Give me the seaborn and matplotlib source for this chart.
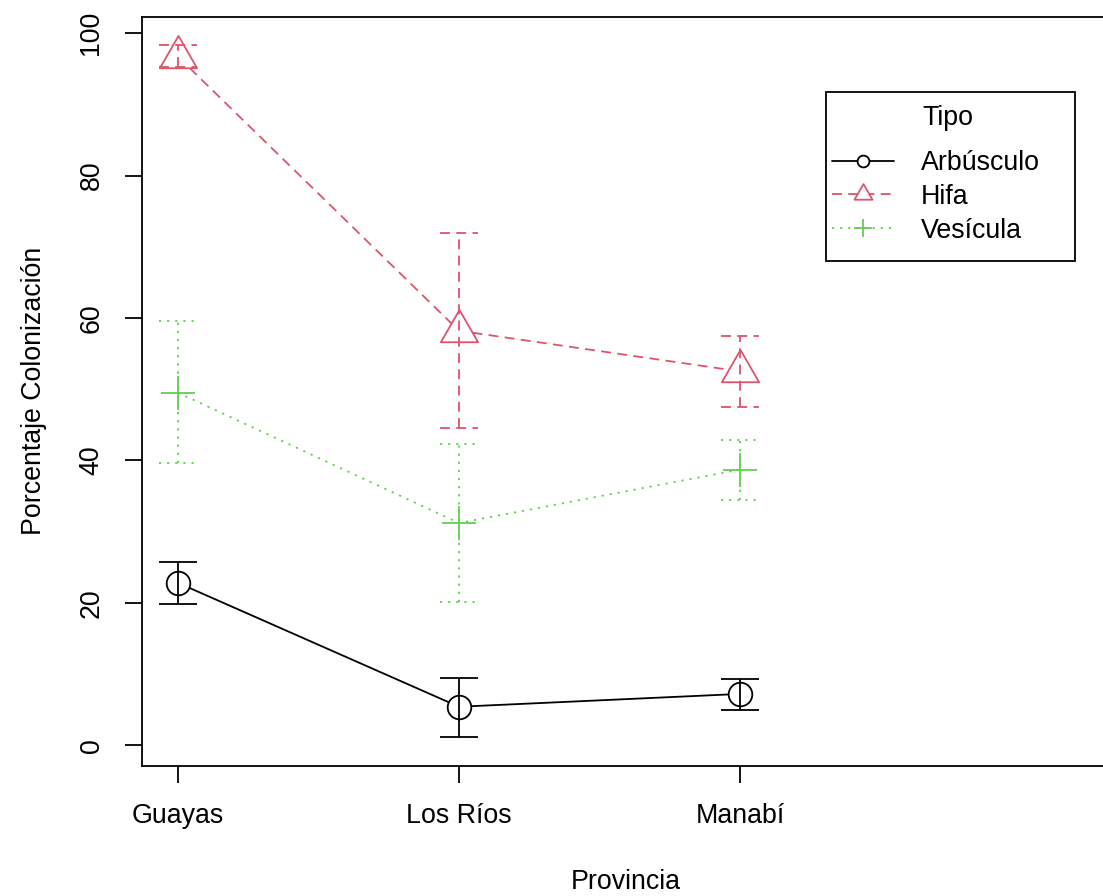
import numpy as np
import pandas as pd
import matplotlib
matplotlib.use("Agg")
import matplotlib.pyplot as plt
import seaborn as sns
from matplotlib.lines import Line2D
from matplotlib.patches import Rectangle
from matplotlib.path import Path

# ---------------- data ----------------
provincias = ["Guayas", "Los Ríos", "Manabí"]
tipos = ["Arbúsculo", "Hifa", "Vesícula"]

arbusculo_media = [22.8, 5.4, 7.2]
arbusculo_inf = [19.8, 1.2, 5.0]
arbusculo_sup = [25.7, 9.5, 9.3]

hifa_media = [96.7, 58.2, 52.5]
hifa_inf = [95.2, 44.5, 47.5]
hifa_sup = [98.3, 71.9, 57.5]

vesicula_media = [49.5, 31.2, 38.7]
vesicula_inf = [39.6, 20.1, 34.5]
vesicula_sup = [59.5, 42.3, 42.9]

y_ticks = [0, 20, 40, 60, 80, 100]

# ---------------- style ----------------
sns.set_style("ticks")
plt.rcParams["font.family"] = ["Liberation Sans", "DejaVu Sans"]
plt.rcParams["text.color"] = "black"

FS = 19.3
LW = 1.3

tri = Path([(-1.0, -0.577), (1.0, -0.577), (0.0, 1.155), (0.0, 0.0)],
           [Path.MOVETO, Path.LINETO, Path.LINETO, Path.CLOSEPOLY])

estilos = {
    "Arbúsculo": dict(color="black", ls="-", marker="o", ms=17, leg_ms=8.5),
    "Hifa": dict(color="#DF536B", ls=(0, (5.5, 3.5)), marker=tri, ms=31, leg_ms=15),
    "Vesícula": dict(color="#61D04F", ls=(0, (1.2, 3.3)), marker="+", ms=25, leg_ms=13),
}

medias = {"Arbúsculo": arbusculo_media, "Hifa": hifa_media, "Vesícula": vesicula_media}
inferiores = {"Arbúsculo": arbusculo_inf, "Hifa": hifa_inf, "Vesícula": vesicula_inf}
superiores = {"Arbúsculo": arbusculo_sup, "Hifa": hifa_sup, "Vesícula": vesicula_sup}

pos = np.arange(1, len(provincias) + 1)
filas = []
for t in tipos:
    for i, p in enumerate(provincias):
        filas.append({"Tipo": t, "Provincia": p, "pos": pos[i],
                      "media": medias[t][i], "inf": inferiores[t][i],
                      "sup": superiores[t][i]})
df = pd.DataFrame(filas)

# ---------------- figure ----------------
W, H = 1103, 896
fig = plt.figure(figsize=(W / 100, H / 100), dpi=100)
ax = fig.add_axes([142 / W, 1 - 765.5 / H, (1110 - 142) / W, (765.5 - 16.7) / H])

capw = 0.068
for t in tipos:
    st = estilos[t]
    sub = df[df["Tipo"] == t]
    sns.lineplot(data=sub, x="pos", y="media", ax=ax, color=st["color"],
                 linestyle=st["ls"], linewidth=LW, marker=st["marker"],
                 markersize=st["ms"], markeredgecolor=st["color"],
                 markerfacecolor="white", markeredgewidth=LW,
                 errorbar=None, legend=False, zorder=2, sort=True)
    ax.vlines(sub["pos"], sub["inf"], sub["sup"], colors=st["color"],
              linestyles=[st["ls"]], linewidth=LW, zorder=3)
    ax.hlines(sub["inf"], sub["pos"] - capw, sub["pos"] + capw, colors=st["color"],
              linestyles=[st["ls"]], linewidth=LW, zorder=3)
    ax.hlines(sub["sup"], sub["pos"] - capw, sub["pos"] + capw, colors=st["color"],
              linestyles=[st["ls"]], linewidth=LW, zorder=3)

ax.set_xlim(0.872, 4.317)
ax.set_ylim(-2.85, 102.3)
ax.set_xticks(pos)
ax.set_xticklabels(provincias)
ax.set_yticks(y_ticks)
ax.set_yticklabels([str(v) for v in y_ticks])
ax.set_xlabel("")
ax.set_ylabel("")

for s in ax.spines.values():
    s.set_color("black")
    s.set_linewidth(LW)
    s.set_visible(True)

ax.tick_params(axis="both", direction="out", length=12, width=LW, color="black",
               labelsize=FS, labelcolor="black", bottom=True, left=True)
ax.tick_params(axis="x", pad=15)
ax.tick_params(axis="y", pad=15, labelrotation=90)
for lab in ax.get_yticklabels():
    lab.set_va("center")
    lab.set_ha("right")

fig.text(626 / W, 1 - 882 / H, "Provincia", ha="center", va="center", fontsize=FS)
fig.text(34 / W, 1 - 391 / H, "Porcentaje Colonización", ha="center", va="center",
         rotation=90, fontsize=FS)

# legend
handles = [Line2D([], [], color=estilos[t]["color"], linestyle=estilos[t]["ls"],
                  linewidth=LW, marker=estilos[t]["marker"],
                  markersize=estilos[t]["leg_ms"], markeredgecolor=estilos[t]["color"],
                  markerfacecolor="white", markeredgewidth=LW) for t in tipos]
leg = ax.legend(handles, tipos, loc="upper left",
                bbox_to_anchor=(832 / W, 1 - 150 / H), bbox_transform=fig.transFigure,
                frameon=False, fontsize=FS, handlelength=2.3,
                handletextpad=1.0, labelspacing=0.29, borderpad=0, borderaxespad=0)
fig.text(948 / W, 1 - 118 / H, "Tipo", ha="center", va="center", fontsize=FS)
fig.add_artist(Rectangle((826 / W, 1 - 261 / H), 249 / W, 169 / H,
                         transform=fig.transFigure, fill=False, ec="black", lw=LW))

fig.savefig("out.png", dpi=100)
